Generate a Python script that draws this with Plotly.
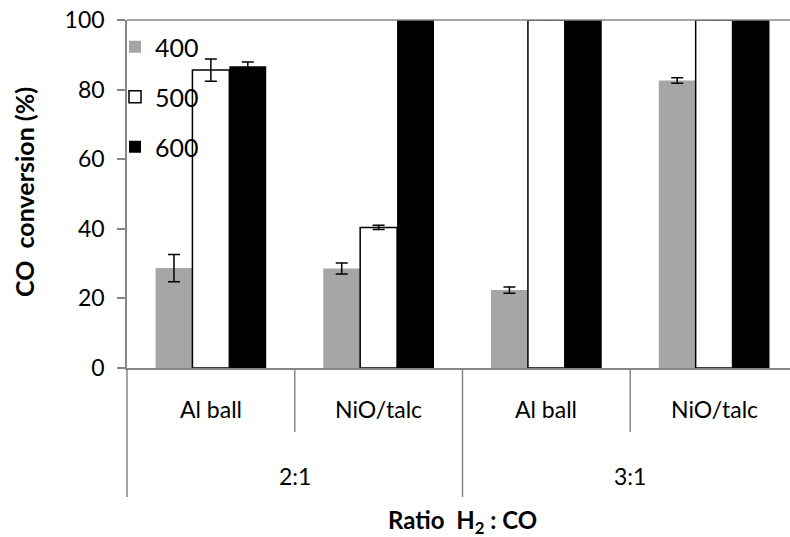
import plotly.graph_objects as go

# ---- data ----
ratios = ["2:1", "2:1", "3:1", "3:1"]
catalysts = ["Al ball", "NiO/talc", "Al ball", "NiO/talc"]
temps = ["400", "500", "600"]
conv_400 = [28.7, 28.6, 22.4, 82.6]
err_400 = [3.9, 1.6, 0.9, 0.8]
conv_500 = [85.6, 40.4, 100, 100]
err_500 = [3.2, 0.6, None, None]
conv_600 = [86.7, 100, 100, 100]
err_600 = [1.2, None, None, None]
y_ticks = [0, 20, 40, 60, 80, 100]

FONT = "Lato"
AXIS_GREY = "#868686"

xs = list(range(len(catalysts)))
series = [
    (temps[0], conv_400, err_400, "#A6A6A6", "#A6A6A6", 0),
    (temps[1], conv_500, err_500, "white", "black", 1.5),
    (temps[2], conv_600, err_600, "black", "black", 0),
]

fig = go.Figure()
for name, vals, errs, fill, edge, lw in series:
    fig.add_trace(go.Bar(
        x=xs, y=vals, name=name, legendgroup=name,
        marker=dict(color=fill, line=dict(color=edge, width=lw)),
        error_y=dict(type="data", array=[e if e is not None else float("nan") for e in errs],
                     visible=True, color="black", thickness=1.5, width=6),
    ))

W, H = 790, 537
plot_left, plot_top, plot_bottom = 127, 20, 368   # pixels
ml, mt, mb = plot_left, plot_top, H - plot_bottom
plot_h = plot_bottom - plot_top
plot_w = W - plot_left

def py(px):
    """pixel row -> paper y"""
    return (plot_bottom - px) / plot_h

shapes = []
shapes.append(dict(type="line", xref="paper", yref="paper", x0=0, x1=1, y0=1, y1=1,
                   line=dict(color=AXIS_GREY, width=1.5), layer="above"))
shapes.append(dict(type="line", xref="paper", yref="paper", x0=0, x1=0, y0=0, y1=py(497),
                   line=dict(color=AXIS_GREY, width=1.5)))
annotations = []
for i, cat in enumerate(catalysts):
    annotations.append(dict(x=i, y=py(409), xref="x", yref="paper", text=cat, showarrow=False,
                            font=dict(family=FONT, size=23, color="black"), yanchor="middle"))
    if i > 0:
        same = ratios[i] == ratios[i - 1]
        shapes.append(dict(type="line", xref="x", yref="paper", x0=i - 0.5, x1=i - 0.5,
                           y0=0, y1=py(432) if same else py(497),
                           line=dict(color=AXIS_GREY, width=1.5)))
groups = []
for i, r in enumerate(ratios):
    if not groups or groups[-1][0] != r:
        groups.append([r, i, i])
    else:
        groups[-1][2] = i
for r, a, b in groups:
    annotations.append(dict(x=(a + b) / 2, y=py(476), xref="x", yref="paper", text=r, showarrow=False,
                            font=dict(family=FONT, size=23, color="black"), yanchor="middle"))
shapes.append(dict(type="line", xref="x", yref="paper", x0=len(xs) - 0.5, x1=len(xs) - 0.5,
                   y0=0, y1=py(497), line=dict(color=AXIS_GREY, width=1.5)))

annotations.append(dict(x=(len(xs) - 1) / 2, y=py(521), xref="x", yref="paper",
                        text="<b>Ratio&nbsp; H<sub>2</sub> : CO</b>", showarrow=False,
                        font=dict(family=FONT, size=24, color="black"), yanchor="middle"))
annotations.append(dict(x=(24 - plot_left) / plot_w, y=py(192), xref="paper", yref="paper",
                        text="<b>CO&nbsp; conversion (%)</b>", textangle=-90, showarrow=False,
                        font=dict(family=FONT, size=25, color="black"),
                        xanchor="center", yanchor="middle"))

fig.update_layout(
    width=W, height=H,
    margin=dict(l=ml, r=0, t=mt, b=mb, pad=0),
    paper_bgcolor="white", plot_bgcolor="white",
    barmode="group", bargap=0.34, bargroupgap=0,
    font=dict(family=FONT, color="black"),
    showlegend=True,
    legend=dict(x=(115 - plot_left) / plot_w, y=py(24), xanchor="left", yanchor="top",
                bgcolor="rgba(0,0,0,0)", font=dict(family=FONT, size=25, color="black"),
                traceorder="grouped", tracegroupgap=14.5),
    xaxis=dict(range=[-0.5, len(xs) - 0.5 - 8 / 168], showticklabels=False, ticks="",
               showgrid=False, zeroline=False, showline=True, linecolor=AXIS_GREY, linewidth=1.5,
               fixedrange=True),
    yaxis=dict(range=[0, 100], tickvals=y_ticks, ticks="outside", ticklen=8, tickwidth=1.5,
               tickcolor=AXIS_GREY, showgrid=False, zeroline=False, showline=True,
               linecolor=AXIS_GREY, linewidth=1.5,
               tickfont=dict(family=FONT, size=23, color="black"), ticklabelstandoff=8),
    shapes=shapes, annotations=annotations,
)

fig.write_html("out.html", config={"displayModeBar": False},
               post_script="document.body.style.margin='0';")
